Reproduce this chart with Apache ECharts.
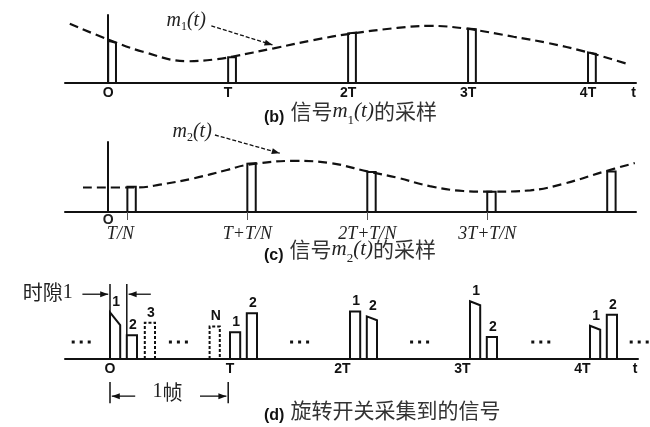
<!DOCTYPE html>
<html>
<head>
<meta charset="utf-8">
<script src="https://cdn.jsdelivr.net/npm/echarts@6/dist/echarts.min.js"></script>
<style>
  html, body { margin: 0; padding: 0; background: #fff; }
  #main { width: 650px; height: 427px; }
</style>
</head>
<body>
<div id="main"></div>
<script>
// time is in units of T, amplitude in % of the vertical axis height

// (b) m1(t) and its samples
const m1Time = [-0.32, 0, 0.29, 0.66, 0.91, 1.04, 1.38, 1.71, 2, 2.41, 2.68, 2.98, 3.38, 3.66, 3.98, 4.33];
const m1Value = [87, 64, 46, 32, 35, 39, 51, 63, 72, 81, 84, 80, 68, 59, 46, 28];
const bSampleTime = [0, 1, 2, 3, 4];
const bSampleLeft = [62, 38, 73, 80, 45];
const bSampleRight = [59, 38, 74, 79, 43];
const bTickValues = [0, 1, 2, 3, 4, 4.38];
const bTickLabels = ['O', 'T', '2T', '3T', '4T', 't'];

// (c) m2(t) and its samples (delayed by T/N)
const m2Time = [-0.21, 0.24, 0.43, 0.71, 0.99, 1.15, 1.54, 1.85, 2.16, 2.41, 2.68, 2.96, 3.18, 3.52, 3.79, 4.14, 4.39];
const m2Value = [35, 35, 39, 48, 60, 67, 73, 70, 58, 49, 37, 30, 29, 31, 40, 58, 70];
const cSampleTime = [0.16, 1.16, 2.16, 3.16, 4.16];
const cSampleLeft = [36, 69, 57, 29, 58];
const cSampleRight = [36, 70, 57, 29, 58];
const cTickValues = [0.16, 1.16, 2.16, 3.16];
const cTickLabels = ['T/N', 'T+T/N', '2T+T/N', '3T+T/N'];

// (d) commutator output
const dPulseTime = [0, 0.14, 0.29, 0.83, 1, 1.14, 2, 2.14, 3, 3.14, 4, 4.14];
const dPulseLeft = [59, 30, 46, 41, 34, 58, 60, 54, 73, 28, 42, 56];
const dPulseRight = [43, 30, 46, 41, 34, 58, 60, 49, 68, 28, 37, 56];
const dChannel = ['1', '2', '3', 'N', '1', '2', '1', '2', '1', '2', '1', '2'];
const dTickValues = [0, 1, 2, 3, 4, 4.375];
const dTickLabels = ['O', 'T', '2T', '3T', '4T', 't'];

const INK = '#111';
const chart = echarts.init(document.getElementById('main'));

function pulses(idx, times, left, right, width, channels) {
  return {
    type: 'custom', xAxisIndex: idx, yAxisIndex: idx, z: 3, silent: true,
    data: times.map((t, i) => [t, left[i], right[i]]),
    renderItem: function (params, api) {
      const t = api.value(0);
      const pts = [api.coord([t, 0]), api.coord([t, api.value(1)]),
                   api.coord([t + width, api.value(2)]), api.coord([t + width, 0])];
      const ch = channels ? channels[params.dataIndex] : null;
      const dashed = ch && ch !== '1' && ch !== '2';
      const kids = [{
        type: 'polyline', shape: { points: pts },
        style: { fill: 'none', stroke: INK, lineWidth: 2, lineDash: dashed ? [3, 2] : null }
      }];
      if (ch) {
        kids.push({
          type: 'text', x: (pts[1][0] + pts[2][0]) / 2 + 1, y: Math.min(pts[1][1], pts[2][1]) - 3,
          style: { text: ch, font: 'bold 14px "Liberation Sans"', fill: INK, align: 'center', verticalAlign: 'bottom' }
        });
      }
      return { type: 'group', children: kids };
    }
  };
}

function arrow(api, from, to, dash) {
  const a = api.coord(from), b = api.coord(to);
  const ang = Math.atan2(b[1] - a[1], b[0] - a[0]);
  const L = 8, W = 3, c = Math.cos(ang), s = Math.sin(ang);
  return [
    { type: 'line', shape: { x1: a[0], y1: a[1], x2: b[0], y2: b[1] },
      style: { stroke: INK, lineWidth: 1.3, lineDash: dash || null } },
    { type: 'polygon', shape: { points: [b, [b[0] - L * c + W * s, b[1] - L * s - W * c], [b[0] - L * c - W * s, b[1] - L * s + W * c]] },
      style: { fill: INK } }
  ];
}
function seg(api, from, to) {
  const a = api.coord(from), b = api.coord(to);
  return { type: 'line', shape: { x1: a[0], y1: a[1], x2: b[0], y2: b[1] }, style: { stroke: INK, lineWidth: 1.5 } };
}
function label(api, at, text, rich, align) {
  const p = api.coord(at);
  return { type: 'text', x: p[0], y: p[1],
    style: { text: text, rich: rich, font: '19px "Noto Sans CJK SC"', fill: '#222', align: align || 'center', verticalAlign: 'middle' } };
}
function dots(api, t, v) {
  const p = api.coord([t, v]);
  return [-8, 0, 8].map(dx => ({ type: 'rect', shape: { x: p[0] + dx - 1.5, y: p[1] - 1.5, width: 3, height: 3 }, style: { fill: INK } }));
}
function notes(idx, build) {
  return { type: 'custom', xAxisIndex: idx, yAxisIndex: idx, z: 4, silent: true, data: [[0, 0]],
    renderItem: (params, api) => ({ type: 'group', children: build(api) }) };
}

const mathRich = {
  i: { fontFamily: 'Liberation Serif', fontStyle: 'italic', fontSize: 20, color: INK },
  s: { fontFamily: 'Liberation Serif', fontSize: 12, color: INK, padding: [12, 0, 0, 0] }
};
const noteRich = {
  c: { fontFamily: 'Noto Sans CJK SC', fontSize: 20, color: '#222' },
  n: { fontFamily: 'Liberation Serif', fontSize: 20, color: '#222' },
  o: { fontFamily: 'Liberation Sans', fontWeight: 'bold', fontSize: 14, color: INK }
};
const capRich = {
  p: { fontFamily: 'Liberation Sans', fontWeight: 'bold', fontSize: 16, color: INK, padding: [12, 6, 0, 0] },
  c: { fontFamily: 'Noto Sans CJK SC', fontWeight: 'normal', fontSize: 21, color: '#333' },
  i: { fontFamily: 'Liberation Serif', fontStyle: 'italic', fontWeight: 'normal', fontSize: 21, color: '#222' },
  s: { fontFamily: 'Liberation Serif', fontWeight: 'normal', fontSize: 13, color: '#222', padding: [18, 0, 0, 0] }
};

function xAxis(idx, min, max, values, labels, rich, tick) {
  return {
    gridIndex: idx, type: 'value', min: min, max: max,
    axisLine: { onZero: true, lineStyle: { color: INK, width: 2 } },
    axisTick: tick ? { show: true, customValues: tick, length: 8, lineStyle: { color: '#555', width: 1 } } : { show: false },
    splitLine: { show: false },
    axisLabel: {
      customValues: values, margin: 3, color: INK, hideOverlap: false,
      fontFamily: 'Liberation Sans', fontWeight: 'bold', fontSize: 14,
      formatter: v => {
        const s = labels[values.indexOf(v)];
        return rich ? rich(s) : s;
      },
      rich: {
        o: { fontFamily: 'Liberation Sans', fontWeight: 'bold', fontSize: 14, color: INK },
        n: { fontFamily: 'Liberation Serif', fontStyle: 'italic', fontWeight: 'normal', fontSize: 18, color: '#222', padding: [10, 0, 0, 0] },
        n0: { fontFamily: 'Liberation Serif', fontStyle: 'italic', fontWeight: 'normal', fontSize: 18, color: '#222', padding: [10, 14, 0, 0] },
        sh: { fontFamily: 'Liberation Sans', fontWeight: 'bold', fontSize: 14, color: INK, padding: [0, 15, 0, 0] }
      }
    }
  };
}
function yAxis(idx, show) {
  return {
    gridIndex: idx, type: 'value', min: 0, max: 100,
    axisLine: { show: show, onZero: true, lineStyle: { color: INK, width: 2 } },
    axisTick: { show: false }, axisLabel: { show: false }, splitLine: { show: false }
  };
}

const option = {
  animation: false,
  backgroundColor: '#fff',
  title: [
    { left: 264, top: 96, padding: 0, text: '{p|(b)}{c|信号}{i|m}{s|1}{i|(t)}{c|的采样}', textStyle: { fontWeight: 'normal', rich: capRich } },
    { left: 264, top: 234, padding: 0, text: '{p|(c)}{c|信号}{i|m}{s|2}{i|(t)}{c|的采样}', textStyle: { fontWeight: 'normal', rich: capRich } },
    { left: 264, top: 396, padding: 0, text: '{p|(d)}{c|旋转开关采集到的信号}', textStyle: { fontWeight: 'normal', rich: capRich } }
  ],
  grid: [
    { left: 65, top: 15, width: 571, height: 68 },
    { left: 65, top: 142, width: 571, height: 70 },
    { left: 65, top: 280, width: 573, height: 79 }
  ],
  xAxis: [
    xAxis(0, -0.36, 4.4, bTickValues, bTickLabels),
    xAxis(1, -0.36, 4.4, cTickValues, cTickLabels,
      s => (s === 'T/N' ? '{n0|T/N}' : '{n|' + s + '}'), cSampleTime.slice(0, 4)),
    xAxis(2, -0.375, 4.4, dTickValues, dTickLabels,
      s => (s === '2T' || s === '3T' || s === '4T') ? '{sh|' + s + '}' : '{o|' + s + '}')
  ],
  yAxis: [yAxis(0, true), yAxis(1, true), yAxis(2, false)],
  series: [
    { type: 'line', xAxisIndex: 0, yAxisIndex: 0, smooth: 0.4, showSymbol: false, silent: true,
      data: m1Time.map((t, i) => [t, m1Value[i]]),
      lineStyle: { color: INK, width: 2.2, type: [9, 5] } },
    pulses(0, bSampleTime, bSampleLeft, bSampleRight, 0.065),
    notes(0, api => [label(api, [0.65, 91], '{i|m}{s|1}{i|(t)}', mathRich)].concat(arrow(api, [0.86, 84], [1.37, 56], [4, 2]))),

    { type: 'line', xAxisIndex: 1, yAxisIndex: 1, smooth: 0.4, showSymbol: false, silent: true,
      data: m2Time.map((t, i) => [t, m2Value[i]]),
      lineStyle: { color: INK, width: 2.2, type: [9, 5] } },
    pulses(1, cSampleTime, cSampleLeft, cSampleRight, 0.07),
    notes(1, api => [label(api, [0, -12], '{o|O}', noteRich), label(api, [0.7, 114], '{i|m}{s|2}{i|(t)}', mathRich)]
      .concat(arrow(api, [0.89, 110], [1.43, 84], [4, 2]))),

    pulses(2, dPulseTime, dPulseLeft, dPulseRight, 0.085, dChannel),
    notes(2, api => [].concat(
      [label(api, [-0.31, 84], '{c|时隙}{n|1}', noteRich, 'right')],
      arrow(api, [-0.23, 82], [-0.015, 82]),
      [seg(api, [0, 95], [0, 59]), seg(api, [0.14, 95], [0.14, 30])],
      arrow(api, [0.34, 82], [0.155, 82]),
      [seg(api, [0, -29], [0, -56]), seg(api, [0.985, -29], [0.985, -56])],
      arrow(api, [0.21, -47], [0.015, -47]),
      arrow(api, [0.75, -47], [0.97, -47]),
      [label(api, [0.48, -42], '{n|1}{c|帧}', noteRich)],
      dots(api, -0.24, 21.5), dots(api, 0.57, 21.5), dots(api, 1.58, 21.5),
      dots(api, 2.58, 21.5), dots(api, 3.59, 21.5), dots(api, 4.41, 21.5)
    ))
  ]
};
chart.setOption(option);
</script>
</body>
</html>
